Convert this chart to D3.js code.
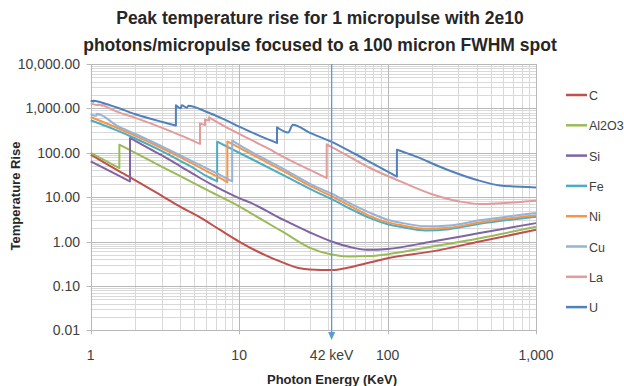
<!DOCTYPE html>
<html>
<head>
<meta charset="utf-8">
<script src="https://cdn.jsdelivr.net/npm/d3@7"></script>
<style>
  body { margin: 0; background: #fff; }
  text { font-family: 'Liberation Sans', Arial, sans-serif; }
</style>
</head>
<body>
<script>
// [photon energy keV, temperature rise]
var seriesC = [[1, 91], [1.5, 41], [2, 24], [3, 10.8], [4, 6.1], [5.45, 3.5], [7.4, 1.85], [10, 1.0], [13, 0.62], [20, 0.33],
  [25.7, 0.25], [30, 0.235], [42, 0.227], [55, 0.26], [75.6, 0.336], [100, 0.42], [200, 0.6], [417, 1.0], [1000, 1.84]];
var seriesAl2O3 = [[1, 99], [1.3, 62], [1.56, 45], [1.56, 152], [2, 99], [3, 49], [4.66, 23], [6.35, 13.5], [10, 6.2],
  [11.8, 4.5], [20, 1.6], [30, 0.72], [42, 0.51], [55, 0.46], [75.6, 0.47], [100, 0.52], [200, 0.77], [417, 1.19], [1000, 2.15]];
var seriesSi = [[1, 64], [1.4, 36], [1.84, 22.7], [1.84, 216], [2.5, 122], [3, 88], [4, 50], [5.45, 27], [7, 17], [10, 9.5],
  [11.8, 7.6], [19.8, 3.1], [30, 1.6], [42, 1.0], [55, 0.76], [72, 0.65], [100, 0.68], [200, 1.0], [417, 1.55], [1000, 2.6]];
var seriesFe = [[1, 540], [1.5, 319], [2, 210], [3, 110], [4, 66], [5, 44], [6, 30], [7.11, 22.6], [7.11, 178], [10, 100],
  [20, 31], [30, 15.4], [42, 9], [60, 4.9], [75.6, 3.4], [100, 2.45], [127, 2.1], [180, 1.78], [260, 1.9], [417, 2.5], [1000, 3.6]];
var seriesNi = [[1, 640], [1.5, 366], [2, 240], [3, 128], [4, 80], [5, 54], [6, 39], [7, 30], [8.33, 21.6], [8.33, 180],
  [10, 130], [20, 38], [30, 18], [42, 10.5], [60, 5.6], [75.6, 3.8], [100, 2.7], [127, 2.3], [180, 1.95], [260, 2.05], [417, 2.7], [1000, 3.9]];
var seriesCu = [[1, 745], [1.09, 680], [1.1, 760], [1.5, 409], [2, 265], [3, 141], [4, 88], [5, 61], [6, 45], [7, 35], [8, 27.7],
  [8.98, 22.7], [8.98, 188], [10, 150], [20, 43], [30, 20], [42, 12], [58.7, 6.7], [75.6, 4.5], [100, 3.1], [127, 2.6], [180, 2.2],
  [260, 2.3], [417, 3.0], [1000, 4.4]];
var seriesLa = [[1, 1280], [1.12, 1170], [1.12, 1230], [1.2, 1150], [1.2, 1200], [1.5, 847], [2, 611], [3, 369], [4, 249],
  [5.45, 158], [5.45, 460], [5.89, 420], [5.89, 560], [6.27, 530], [6.27, 630], [8, 394], [10, 267], [15, 135], [20, 80], [30, 41],
  [38.9, 27], [38.9, 155], [50, 98], [75.6, 46], [121, 23], [202, 11.5], [305, 8], [417, 7], [572, 7.3], [1000, 8.3]];
var seriesU = [[1, 1500], [1.04, 1420], [1.04, 1480], [1.1, 1440], [1.27, 1260], [1.5, 1050], [2, 740], [2.5, 590], [3, 500],
  [3.75, 410], [3.75, 1180], [4.05, 1010], [4.1, 1170], [4.45, 1040], [4.55, 1150], [6, 840], [8, 560], [10, 387], [14, 235],
  [18, 166], [18, 375], [21.4, 285], [23, 430], [30, 280], [42, 176], [60, 95], [82, 54], [115.6, 29], [115.6, 117], [150, 86],
  [250, 42], [395, 24.7], [572, 18.4], [1000, 16.6]];

var names = ['C', 'Al2O3', 'Si', 'Fe', 'Ni', 'Cu', 'La', 'U'];
var colors = ['#c0504d', '#9bbb59', '#8064a2', '#4bacc6', '#f79646', '#95b3d7', '#e39b9b', '#4f81bd'];
var allSeries = [seriesC, seriesAl2O3, seriesSi, seriesFe, seriesNi, seriesCu, seriesLa, seriesU];

var xTicks = [1, 10, 100, 1000];
var yTicks = [0.01, 0.1, 1, 10, 100, 1000, 10000];
var markerEnergy = 42;

var width = 624,
  height = 386,
  plotLeft = 90.7,
  plotRight = 536,
  plotTop = 64,
  plotBottom = 330.3;

var svg = d3.select('body').append('svg').attr('width', width).attr('height', height);

var x = d3.scaleLog().domain([1, 1000]).range([plotLeft, plotRight]);
var y = d3.scaleLog().domain([0.01, 10000]).range([plotBottom, plotTop]);

// minor + major gridlines
var minorX = [], minorY = [];
[1, 10, 100].forEach(function(d) {
  for (var i = 2; i < 10; i++) minorX.push(d * i);
});
[0.01, 0.1, 1, 10, 100, 1000].forEach(function(d) {
  for (var i = 2; i < 10; i++) minorY.push(d * i);
});

var grid = svg.append('g');
grid.selectAll('.mx').data(minorX).enter().append('line')
  .attr('x1', function(d) { return Math.round(x(d)) + 0.5; })
  .attr('x2', function(d) { return Math.round(x(d)) + 0.5; })
  .attr('y1', plotTop).attr('y2', plotBottom)
  .style('stroke', '#d9d9d9');
grid.selectAll('.my').data(minorY).enter().append('line')
  .attr('x1', plotLeft).attr('x2', plotRight)
  .attr('y1', function(d) { return Math.round(y(d)) + 0.5; })
  .attr('y2', function(d) { return Math.round(y(d)) + 0.5; })
  .style('stroke', '#d9d9d9');
grid.selectAll('.Mx').data(xTicks).enter().append('line')
  .attr('x1', function(d) { return Math.round(x(d)) + 0.5; })
  .attr('x2', function(d) { return Math.round(x(d)) + 0.5; })
  .attr('y1', plotTop).attr('y2', plotBottom + 4)
  .style('stroke', '#b8b8b8');
grid.selectAll('.My').data(yTicks).enter().append('line')
  .attr('x1', plotLeft - 4).attr('x2', plotRight)
  .attr('y1', function(d) { return Math.round(y(d)) + 0.5; })
  .attr('y2', function(d) { return Math.round(y(d)) + 0.5; })
  .style('stroke', '#b8b8b8');

// tick labels
var yFmt = d3.format(',.2f');
svg.append('g').selectAll('text').data(yTicks).enter().append('text')
  .attr('x', 80)
  .attr('y', function(d) { return y(d) + 5; })
  .attr('text-anchor', 'end')
  .style('font-size', '14px')
  .style('fill', '#404040')
  .text(function(d) { return yFmt(d); });

svg.append('g').selectAll('text').data(xTicks).enter().append('text')
  .attr('x', function(d) { return x(d); })
  .attr('y', 360)
  .attr('text-anchor', 'middle')
  .style('font-size', '14px')
  .style('fill', '#404040')
  .text(function(d) { return d3.format(',')(d); });

svg.append('text')
  .attr('x', x(markerEnergy))
  .attr('y', 360)
  .attr('text-anchor', 'middle')
  .style('font-size', '14px')
  .style('fill', '#404040')
  .text(markerEnergy + ' keV');

// series: smooth between absorption edges, vertical jump at the edge
var lineGen = d3.line()
  .x(function(d) { return x(d[0]); })
  .y(function(d) { return y(d[1]); })
  .curve(d3.curveMonotoneX);

function edgePath(s) {
  var parts = [], cur = [s[0]];
  for (var k = 1; k < s.length; k++) {
    if (s[k][0] === s[k - 1][0]) {
      parts.push(cur);
      cur = [s[k]];
    } else {
      cur.push(s[k]);
    }
  }
  parts.push(cur);
  return parts.map(function(p, j) {
    var d = p.length > 1 ? lineGen(p) : 'M' + x(p[0][0]) + ',' + y(p[0][1]);
    return j > 0 ? d.replace(/^M/, 'L') : d;
  }).join('');
}

allSeries.forEach(function(s, i) {
  svg.append('path')
    .attr('d', edgePath(s))
    .style('fill', 'none')
    .style('stroke', colors[i])
    .style('stroke-width', 2)
    .style('stroke-linejoin', 'round');
});

// 42 keV marker with arrow
svg.append('line')
  .attr('x1', x(markerEnergy)).attr('x2', x(markerEnergy))
  .attr('y1', plotTop).attr('y2', 334)
  .style('stroke', '#5b9bd5')
  .style('stroke-width', 1.3);
svg.append('path')
  .attr('d', 'M' + (x(markerEnergy) - 3.5) + ',332L' + (x(markerEnergy) + 3.5) + ',332L' + x(markerEnergy) + ',340Z')
  .style('fill', '#5b9bd5');

// legend
var legend = svg.append('g').attr('class', 'legend');
names.forEach(function(n, i) {
  var ly = 95 + i * 30.3;
  legend.append('line')
    .attr('x1', 566).attr('x2', 587)
    .attr('y1', ly).attr('y2', ly)
    .style('stroke', colors[i])
    .style('stroke-width', 2.5);
  legend.append('text')
    .attr('x', 589)
    .attr('y', ly + 5)
    .style('font-size', '12.5px')
    .style('fill', '#404040')
    .text(n);
});

// titles
svg.append('text')
  .attr('x', 320).attr('y', 24)
  .attr('text-anchor', 'middle')
  .style('font-size', '17.5px')
  .style('font-weight', 'bold')
  .style('fill', '#262626')
  .text('Peak temperature rise for 1 micropulse with 2e10');
svg.append('text')
  .attr('x', 320).attr('y', 51)
  .attr('text-anchor', 'middle')
  .style('font-size', '17.5px')
  .style('font-weight', 'bold')
  .style('fill', '#262626')
  .text('photons/micropulse focused to a 100 micron FWHM spot');

svg.append('text')
  .attr('transform', 'translate(20,196)rotate(-90)')
  .attr('text-anchor', 'middle')
  .style('font-size', '13px')
  .style('font-weight', 'bold')
  .style('fill', '#262626')
  .text('Temperature Rise');

svg.append('text')
  .attr('x', 332).attr('y', 384)
  .attr('text-anchor', 'middle')
  .style('font-size', '13px')
  .style('font-weight', 'bold')
  .style('fill', '#262626')
  .text('Photon Energy (KeV)');
</script>
</body>
</html>
